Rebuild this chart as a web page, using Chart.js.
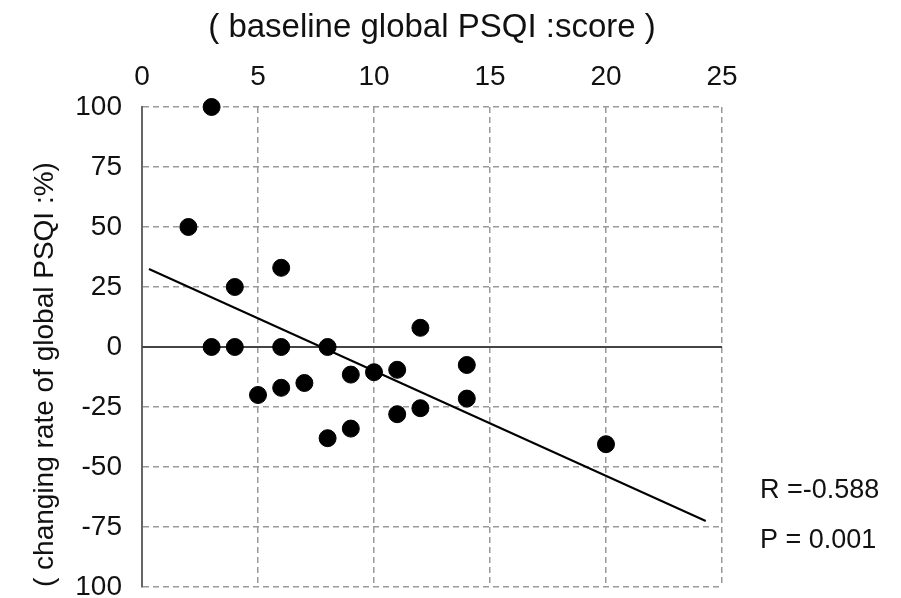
<!DOCTYPE html>
<html>
<head>
<meta charset="utf-8">
<script src="https://cdn.jsdelivr.net/npm/chart.js@4/dist/chart.umd.min.js"></script>
<style>
  html, body { margin: 0; padding: 0; background: #fff; }
  #wrap { width: 901px; height: 598px; }
</style>
</head>
<body>
<div id="wrap"><canvas id="psqiChart" width="901" height="598"></canvas></div>
<script>
// baseline global PSQI score vs changing rate (%)
const baselineScore = [3, 2, 4, 6, 3, 4, 6, 8, 12, 5, 6, 7, 9, 10, 11, 14, 8, 9, 11, 12, 14, 20];
const changingRate = [100, 50, 25, 33, 0, 0, 0, 0, 8, -20, -17, -15, -11.5, -10.5, -9.5, -7.5, -38, -34, -28, -25.5, -21.5, -40.5];

// fitted line end points
const trendX = [0.3, 24.3];
const trendY = [32.5, -72.5];

const xTicks = [0, 5, 10, 15, 20, 25];
const yTickValues = [100, 75, 50, 25, 0, -25, -50, -75, -100];
const yTickLabels = ['100', '75', '50', '25', '0', '-25', '-50', '-75', '100'];

const statsText = ['R =-0.588', 'P = 0.001'];

const FONT = '"Liberation Sans", Arial, sans-serif';

const statsPlugin = {
  id: 'statsText',
  afterDraw(chart) {
    const ctx = chart.ctx;
    ctx.save();
    ctx.fillStyle = '#111';
    ctx.font = '27px ' + FONT;
    ctx.textAlign = 'left';
    ctx.textBaseline = 'middle';
    ctx.fillText(statsText[0], 760, 491);
    ctx.fillText(statsText[1], 760, 541);
    ctx.restore();
  }
};

const ctx = document.getElementById('psqiChart').getContext('2d');
new Chart(ctx, {
  type: 'scatter',
  data: {
    datasets: [
      {
        type: 'line',
        data: [{ x: xTicks[0], y: 0 }, { x: xTicks[xTicks.length - 1], y: 0 }],
        borderColor: '#444',
        borderWidth: 2,
        pointRadius: 0,
        order: 3
      },
      {
        type: 'line',
        data: trendX.map((x, i) => ({ x: x, y: trendY[i] })),
        borderColor: '#000',
        borderWidth: 2,
        pointRadius: 0,
        order: 2
      },
      {
        data: baselineScore.map((x, i) => ({ x: x, y: changingRate[i] })),
        backgroundColor: '#000',
        borderColor: '#000',
        pointRadius: 8.5,
        clip: false,
        order: 1
      }
    ]
  },
  options: {
    responsive: false,
    animation: false,
    layout: { padding: { left: 0, right: 179, top: 0, bottom: 11 } },
    plugins: {
      legend: { display: false },
      tooltip: { enabled: false }
    },
    scales: {
      x: {
        type: 'linear',
        position: 'top',
        min: 0,
        max: 25,
        afterBuildTicks: s => { s.ticks = xTicks.map(v => ({ value: v })); },
        afterFit: s => { s.height = 107; s.paddingLeft = 0; s.paddingRight = 0; },
        ticks: {
          font: { family: FONT, size: 28 },
          color: '#111',
          padding: 13
        },
        grid: { color: '#9a9a9a', lineWidth: 1.5, drawTicks: false },
        border: { display: false, dash: [6, 4] },
        title: {
          display: true,
          text: '( baseline global PSQI :score )',
          font: { family: FONT, size: 33 },
          color: '#111',
          padding: { top: 8, bottom: 0 }
        }
      },
      y: {
        type: 'linear',
        min: -100,
        max: 100,
        afterBuildTicks: s => { s.ticks = yTickValues.map(v => ({ value: v })); },
        afterFit: s => { s.width = 142; s.paddingTop = 0; s.paddingBottom = 0; },
        ticks: {
          font: { family: FONT, size: 28 },
          color: '#111',
          padding: 20,
          callback: v => yTickLabels[yTickValues.indexOf(v)]
        },
        grid: { color: '#9a9a9a', lineWidth: 1.5, drawTicks: false },
        border: { display: true, color: '#666', width: 2, dash: [6, 4] },
        title: {
          display: true,
          align: 'start',
          text: '( changing rate of global PSQI :%)',
          font: { family: FONT, size: 28 },
          color: '#111',
          padding: { top: 28, bottom: 0 }
        }
      }
    }
  },
  plugins: [statsPlugin]
});
</script>
</body>
</html>
